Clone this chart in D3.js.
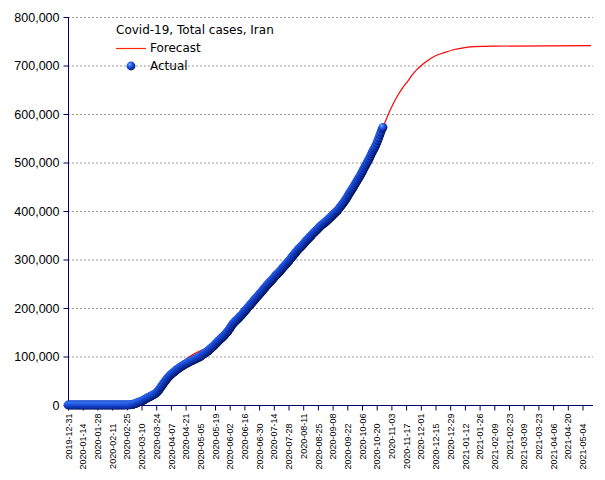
<!DOCTYPE html>
<html>
<head>
<meta charset="utf-8">
<script src="https://cdn.jsdelivr.net/npm/d3@7"></script>
<style>
  html, body { margin: 0; padding: 0; background: #fff; }
  svg { display: block; }
</style>
</head>
<body>
<svg id="chart" width="605" height="480"></svg>
<script>
// ---------------- DATA ----------------
const chartTitle = "Covid-19, Total cases, Iran";
const seriesNames = ["Forecast", "Actual"];
const yTickValues = [0, 100000, 200000, 300000, 400000, 500000, 600000, 700000, 800000];
const xTickLabels = [
  "2019-12-31","2020-01-14","2020-01-28","2020-02-11","2020-02-25","2020-03-10","2020-03-24",
  "2020-04-07","2020-04-21","2020-05-05","2020-05-19","2020-06-02","2020-06-16","2020-06-30",
  "2020-07-14","2020-07-28","2020-08-11","2020-08-25","2020-09-08","2020-09-22","2020-10-06",
  "2020-10-20","2020-11-03","2020-11-17","2020-12-01","2020-12-15","2020-12-29","2021-01-12",
  "2021-01-26","2021-02-09","2021-02-23","2021-03-09","2021-03-23","2021-04-06","2021-04-20",
  "2021-05-04"
];
const xDomain = ["2019-12-31", "2021-05-14"];

// Actual: one value per day starting at actualStartDate
const actualStartDate = "2019-12-31";
const actualValues = [
  // 2019-12-31 .. 2020-02-18 (50 days)
  0,0,0,0,0,0,0,0,0,0, 0,0,0,0,0,0,0,0,0,0, 0,0,0,0,0,0,0,0,0,0, 0,0,0,0,0,0,0,0,0,0, 0,0,0,0,0,0,0,0,0,0,
  // 2020-02-19 .. 2020-02-29
  2,5,18,28,43,61,95,139,245,388,593,
  // March
  978,1501,2336,2922,3513,4747,5823,6566,7161,8042,9000,10075,11364,12729,13938,14991,16169,17361,18407,19644,
  20610,21638,23049,24811,27017,29406,32332,35408,38309,41495,44605,
  // April
  47593,50468,53183,55743,58226,60500,62589,64586,66220,68192,70029,71686,73303,74877,76389,77995,79494,80868,82211,83505,
  84802,85996,87026,88194,89328,90481,91472,92584,93657,94640,
  // May
  95646,96448,97424,98647,99970,101650,103135,104691,106220,107603,109286,110767,112725,114533,116635,118392,120198,122492,124603,126949,
  129341,131652,133521,135701,137724,139511,141591,143849,146668,148950,151466,
  // June
  154445,157562,160696,164270,167156,169425,171789,173832,175927,177938,180156,182525,184955,187427,189876,192439,195051,197647,200262,202584,
  204952,207525,209970,212501,215096,217724,220180,222669,225205,227662,
  // July
  230211,232863,235429,237878,240438,243051,245688,248379,250458,252720,255117,257303,259652,262173,264561,267061,269440,271606,273788,276202,
  278827,281413,284034,286523,288839,291172,293606,296273,298909,301530,304204,
  // August
  306752,309437,312035,314786,317483,320117,322567,324692,326712,328844,331189,333699,336324,338825,341070,343203,345450,347835,350279,352558,
  354764,356792,358905,361150,363363,365606,367796,369911,371816,373570,375212,
  // September
  376894,378752,380746,382772,384666,386658,388810,391112,393425,395488,397801,399940,402029,404648,407353,410334,413149,416198,419043,422140,
  425481,429193,432798,436319,439882,443086,446448,449960,453637,457219,
  // October 1 .. 26
  461044,464596,468119,471772,475674,479825,483844,488236,492378,496253,500075,504281,508389,513219,518000,522387,526490,530380,534631,539670,
  545286,550757,556891,562705,568896,572500
];

// Forecast: values at these dates
const forecastDates = [
  "2019-12-31","2020-02-18","2020-02-25","2020-03-03","2020-03-10","2020-03-17","2020-03-24","2020-03-31",
  "2020-04-07","2020-04-14","2020-04-21","2020-04-28","2020-05-05","2020-05-12","2020-05-19","2020-05-26",
  "2020-06-02","2020-06-09","2020-06-16","2020-06-23","2020-06-30","2020-07-07","2020-07-14","2020-07-21",
  "2020-07-28","2020-08-04","2020-08-11","2020-08-18","2020-08-25","2020-09-01","2020-09-08","2020-09-15",
  "2020-09-22","2020-09-29","2020-10-06","2020-10-13","2020-10-20","2020-10-26","2020-11-01","2020-11-05",
  "2020-11-09","2020-11-14","2020-11-19","2020-11-23","2020-11-27","2020-12-01","2020-12-05","2020-12-14",
  "2020-12-24","2021-01-02","2021-01-12","2021-01-21","2021-02-09","2021-05-12"
];
const forecastValues = [
  0,0,300,3000,9000,17000,26000,45000,
  64000,79000,94000,104000,112000,118000,125000,137000,
  154000,169000,186000,205000,226000,245000,262000,278000,
  296000,314000,331000,347000,363000,377000,391000,407000,
  429000,453000,479000,508000,539000,572000,604000,622000,
  638000,655000,669000,681000,691000,699000,706000,719000,
  727000,733000,737000,739000,740000,741000
];

// ---------------- DRAW ----------------
const parse = d3.utcParse("%Y-%m-%d");
const svg = d3.select("#chart");
const plotLeft = 68, plotRight = 593, plotTop = 17, plotBottom = 405;

const x = d3.scaleUtc().domain(xDomain.map(parse)).range([plotLeft, plotRight]);
const y = d3.scaleLinear().domain([0, 800000]).range([plotBottom, plotTop]);

// gradient for markers
const defs = svg.append("defs");
const grad = defs.append("radialGradient").attr("id", "ball")
  .attr("cx", "40%").attr("cy", "38%").attr("r", "62%").attr("fx", "33%").attr("fy", "30%");
grad.append("stop").attr("offset", "0%").attr("stop-color", "#9fc2ff");
grad.append("stop").attr("offset", "25%").attr("stop-color", "#3a78f2");
grad.append("stop").attr("offset", "60%").attr("stop-color", "#1648d6");
grad.append("stop").attr("offset", "85%").attr("stop-color", "#0b2a9c");
grad.append("stop").attr("offset", "100%").attr("stop-color", "#061458");

// grid lines
svg.append("g").selectAll("line")
  .data(yTickValues.filter(v => v > 0))
  .join("line")
  .attr("x1", plotLeft).attr("x2", plotRight)
  .attr("y1", d => y(d) + 0.5).attr("y2", d => y(d) + 0.5)
  .attr("stroke", "#9a9a9a").attr("stroke-width", 1)
  .attr("stroke-dasharray", "2,2");

// y axis
const yAxis = d3.axisLeft(y).tickValues(yTickValues).tickSize(5).tickFormat(d3.format(","));
const gy = svg.append("g").attr("transform", `translate(${plotLeft + 0.5},0)`).call(yAxis);
gy.select(".domain").attr("stroke", "#000066").attr("d", `M0,${plotTop}V${plotBottom}`);
gy.selectAll(".tick line").attr("stroke", "#000066");
gy.selectAll(".tick text")
  .attr("font-family", "'Liberation Sans', Arial, sans-serif")
  .attr("font-size", 12.5).attr("fill", "#000").attr("x", -9);

// x axis
const xAxis = d3.axisBottom(x).tickValues(xTickLabels.map(parse)).tickSize(5).tickFormat(d3.utcFormat("%Y-%m-%d"));
const gx = svg.append("g").attr("transform", `translate(0,${plotBottom + 0.5})`).call(xAxis);
gx.select(".domain").attr("stroke", "#000066").attr("d", `M${plotLeft},0H${plotRight}`);
gx.selectAll(".tick line").attr("stroke", "#000066");
gx.selectAll(".tick text")
  .attr("font-family", "'Liberation Sans', Arial, sans-serif")
  .attr("font-size", 9).attr("fill", "#000")
  .attr("text-anchor", "end")
  .attr("dy", "0.35em")
  .attr("transform", (d, i) => `translate(0,${i % 2 === 0 ? 8 : 18}) rotate(-90)`)
  .attr("x", 0).attr("y", 0);

// forecast line
const forecast = forecastDates.map((d, i) => ({ date: parse(d), value: forecastValues[i] }));
svg.append("path")
  .datum(forecast)
  .attr("fill", "none").attr("stroke", "#ff0000").attr("stroke-width", 1.2)
  .attr("d", d3.line().x(d => x(d.date)).y(d => y(d.value)).curve(d3.curveMonotoneX));

// actual markers
const start = parse(actualStartDate);
const actual = actualValues.map((v, i) => ({ date: d3.utcDay.offset(start, i), value: v }));
svg.append("g").selectAll("circle")
  .data(actual)
  .join("circle")
  .attr("cx", d => x(d.date)).attr("cy", d => y(d.value))
  .attr("r", 4.4).attr("fill", "url(#ball)");

// title + legend
const font = "'DejaVu Sans', Verdana, sans-serif";
svg.append("text").attr("x", 116).attr("y", 34).attr("font-family", font).attr("font-size", 12)
  .attr("fill", "#000").text(chartTitle);
svg.append("line").attr("x1", 116).attr("x2", 146).attr("y1", 48.5).attr("y2", 48.5)
  .attr("stroke", "#ff2a00").attr("stroke-width", 1.2);
svg.append("text").attr("x", 150).attr("y", 52).attr("font-family", font).attr("font-size", 12)
  .attr("fill", "#000").text(seriesNames[0]);
svg.append("circle").attr("cx", 131).attr("cy", 66).attr("r", 4.4).attr("fill", "url(#ball)");
svg.append("text").attr("x", 150).attr("y", 70).attr("font-family", font).attr("font-size", 12)
  .attr("fill", "#000").text(seriesNames[1]);
</script>
</body>
</html>
